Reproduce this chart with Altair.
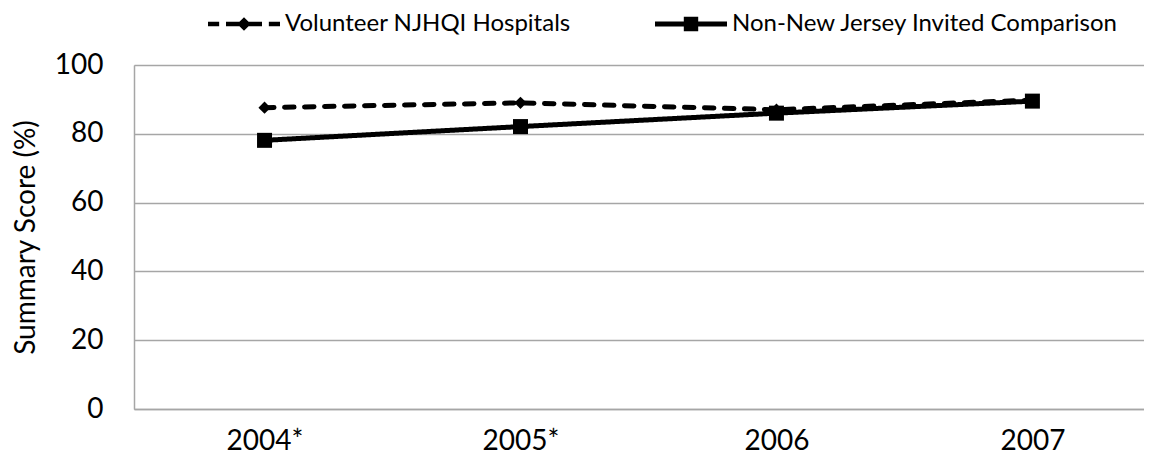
import json
import altair as alt
import pandas as pd

years = ["2004*", "2005*", "2006", "2007"]
series_names = ["Volunteer NJHQI Hospitals", "Non-New Jersey Invited Comparison"]
volunteer = [87.6, 89.0, 87.0, 89.8]
non_nj = [78.1, 82.1, 86.0, 89.5]
y_ticks = [0, 20, 40, 60, 80, 100]

rows = []
for i, yr in enumerate(years):
    rows.append({"idx": i, "year": yr, "series": series_names[0], "value": volunteer[i]})
    rows.append({"idx": i, "year": yr, "series": series_names[1], "value": non_nj[i]})
df = pd.DataFrame(rows)

FONT = "Lato"
label_expr = json.dumps(years) + "[datum.value]"

# legend glyphs: a line (dashed or solid) drawn as filled bars, with the series marker on top
path_v = ("M-1,-0.065H-0.69V0.065H-1Z"
          "M-0.5,-0.065H-0.12V0.065H-0.5Z"
          "M0.12,-0.065H0.5V0.065H0.12Z"
          "M0.69,-0.065H1V0.065H0.69Z"
          "M-0.19,0L0,-0.19L0.19,0L0,0.19Z")
path_n = ("M-1,-0.07H1V0.07H-1Z"
          "M-0.2,-0.2H0.2V0.2H-0.2Z")

x_enc = alt.X(
    "idx:Q",
    scale=alt.Scale(domain=[-0.51, 3.436], nice=False, zero=False),
    axis=alt.Axis(values=[0, 1, 2, 3], labelExpr=label_expr, title=None, grid=False,
                  ticks=False, labelFontSize=28, labelPadding=18, labelFont=FONT,
                  labelColor="black", domainColor="#a6a6a6", domainWidth=1.5),
)
y_enc = alt.Y(
    "value:Q",
    scale=alt.Scale(domain=[0, 100], nice=False),
    axis=alt.Axis(values=y_ticks, title="Summary Score (%)", titleFont=FONT,
                  titleFontSize=28, titleFontWeight="normal", titleColor="black",
                  titlePadding=14, labelFont=FONT, labelFontSize=28, labelColor="black",
                  labelPadding=31, ticks=False, grid=True, gridColor="#a6a6a6",
                  gridWidth=1.5, domainColor="#a6a6a6", domainWidth=1.5),
)

dash_scale = alt.Scale(domain=series_names, range=[[9.5, 10.5], [1, 0]])
shape_scale = alt.Scale(domain=series_names, range=[path_v, path_n])

legend = alt.Legend(
    title=None, orient="none", direction="horizontal", columns=2,
    legendX=74, legendY=-77, labelFont=FONT, labelFontSize=24,
    labelColor="black", labelOffset=5, columnPadding=84, labelLimit=600,
    symbolSize=5184, symbolStrokeWidth=0, symbolFillColor="black",
    symbolOpacity=1, zindex=5,
)

lines = alt.Chart(df).mark_line(color="black", strokeWidth=5, strokeCap="round").encode(
    x=x_enc,
    y=y_enc,
    strokeDash=alt.StrokeDash("series:N", scale=dash_scale, sort=series_names, legend=legend),
)

legend_layer = alt.Chart(df).mark_point(
    filled=True, color="black", size=0
).encode(
    x="idx:Q",
    y="value:Q",
    shape=alt.Shape("series:N", scale=shape_scale, sort=series_names, legend=legend),
    strokeDash=alt.StrokeDash("series:N", scale=dash_scale, sort=series_names, legend=legend),
)

pts_v = alt.Chart(df[df["series"] == series_names[0]]).mark_point(
    shape="diamond", filled=True, color="black", size=150, opacity=1
).encode(x="idx:Q", y="value:Q")

pts_n = alt.Chart(df[df["series"] == series_names[1]]).mark_point(
    shape="square", filled=True, color="black", size=225, opacity=1
).encode(x="idx:Q", y="value:Q")

chart = alt.layer(lines, legend_layer, pts_v, pts_n).properties(
    width=1010, height=344, autosize="none",
    padding={"left": 126, "top": 57, "right": 0, "bottom": 50},
).configure_view(stroke=None).configure(background="white")

chart.save("out.html", embed_options={"renderer": "svg", "actions": False})
